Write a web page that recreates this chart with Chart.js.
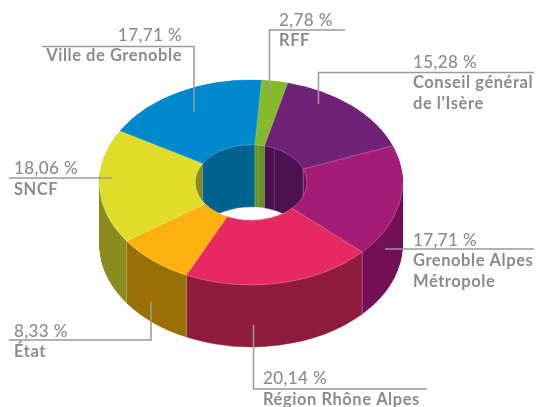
<!DOCTYPE html>
<html>
<head>
<meta charset="utf-8">
<style>html,body{margin:0;padding:0;background:#fff}canvas{display:block}</style>
<script src="https://cdn.jsdelivr.net/npm/chart.js@4"></script>
</head>
<body>
<canvas id="c" width="539" height="407"></canvas>
<script>
const categories = ['RFF', 'Conseil général de l\'Isère', 'Grenoble Alpes Métropole', 'Région Rhône Alpes', 'État', 'SNCF', 'Ville de Grenoble'];
const values = [2.78, 15.28, 17.71, 20.14, 8.33, 18.06, 17.71];
const topColors = ['#85BB2A', '#6F2278', '#A41C75', '#E62A61', '#FCB10F', '#DFDD2A', '#0089CC'];
const wallColors = ['#6A9020', '#4B1250', '#741057', '#901C3D', '#9A7107', '#8B8C20', '#00648F'];

const FLAT = 0.676, DEPTH = 62, CY = 182.5;
const INK = '#8c8c8c', RULE = '#9a9a9a', SEAM = 'rgba(255,255,255,0.38)';
const PCT = '500 17px Lato', NAME = '700 16.5px Lato';

function flatten(ctx, a, shift) {
  ctx.translate(0, CY + shift);
  ctx.scale(1, FLAT);
  ctx.translate(0, -a.y);
}
function drawAs(ctx, a, color, width, shift) {
  const o = a.options;
  a.options = Object.create(o, {
    backgroundColor: { value: color },
    borderColor: { value: color },
    borderWidth: { value: width }
  });
  ctx.save();
  flatten(ctx, a, shift);
  a.draw(ctx);
  ctx.restore();
  a.options = o;
}
function line(ctx, x0, y0, x1, y1) {
  ctx.beginPath(); ctx.moveTo(x0, y0); ctx.lineTo(x1, y1); ctx.stroke();
}
const solid = {
  id: 'solid',
  beforeDatasetsDraw(chart) {
    const ctx = chart.ctx, arcs = chart.getDatasetMeta(0).data;
    for (let d = DEPTH; d >= 1; d--) {
      arcs.forEach((a, i) => drawAs(ctx, a, wallColors[i], 0.6, d));
    }
    // seams between wall segments, and the two faint stripes on the hole wall
    ctx.save();
    ctx.strokeStyle = SEAM;
    ctx.lineWidth = 0.8;
    arcs.forEach(a => {
      const cos = Math.cos(a.startAngle), sin = Math.sin(a.startAngle);
      const r = sin > 0 ? a.outerRadius : a.innerRadius;
      const x = a.x + r * cos, y = CY + FLAT * r * sin;
      line(ctx, x, y, x, y + DEPTH);
    });
    ctx.strokeStyle = 'rgba(255,255,255,0.22)';
    line(ctx, 258.3, 145, 258.3, 206);
    line(ctx, 274.3, 148, 274.3, 209);
    ctx.restore();
    arcs.forEach((a, i) => drawAs(ctx, a, topColors[i], 0.7, 0));
    ctx.save();
    flatten(ctx, arcs[0], 0);
  },
  afterDatasetsDraw(chart) {
    const ctx = chart.ctx, arcs = chart.getDatasetMeta(0).data;
    ctx.restore();
    ctx.save();
    ctx.strokeStyle = SEAM;
    ctx.lineWidth = 0.7;
    arcs.forEach(a => {
      const cos = Math.cos(a.startAngle), sin = Math.sin(a.startAngle);
      line(ctx, a.x + a.innerRadius * cos, CY + FLAT * a.innerRadius * sin,
                a.x + a.outerRadius * cos, CY + FLAT * a.outerRadius * sin);
    });
    const a0 = arcs[0];
    ctx.strokeStyle = 'rgba(255,255,255,0.3)';
    ctx.beginPath();
    ctx.ellipse(a0.x, CY, a0.outerRadius, FLAT * a0.outerRadius, 0, 0, Math.PI);
    ctx.stroke();
    ctx.beginPath();
    ctx.ellipse(a0.x, CY, a0.innerRadius, FLAT * a0.innerRadius, 0, 0, Math.PI * 2);
    ctx.stroke();
    ctx.restore();
  },
  afterDraw(chart) {
    const ctx = chart.ctx;
    ctx.save();
    ctx.strokeStyle = RULE; ctx.lineWidth = 1.5; ctx.lineJoin = 'miter';
    const rule = pts => {
      ctx.beginPath();
      pts.forEach((p, i) => i ? ctx.lineTo(p[0], p[1]) : ctx.moveTo(p[0], p[1]));
      ctx.stroke();
    };
    rule([[42, 46.5], [194, 46.5], [194, 112]]);
    rule([[269.5, 97], [269.5, 30], [345, 30]]);
    rule([[318.5, 104], [318.5, 72.5], [534, 72.5]]);
    rule([[385, 249], [534, 249]]);
    rule([[253.5, 325], [253.5, 389], [427, 389]]);
    rule([[9, 340], [151, 340], [151, 301.5]]);
    rule([[9, 178], [112, 178]]);
    ctx.fillStyle = INK; ctx.textBaseline = 'alphabetic';
    const text = (s, x, y, f, align) => {
      ctx.font = f;
      ctx.letterSpacing = f === PCT ? '0.4px' : '0.55px';
      ctx.textAlign = align || 'left';
      ctx.fillText(s, x, y);
    };
    const pct = i => values[i].toFixed(2).replace('.', ',') + ' %';
    text(pct(6), 182, 41, PCT, 'right'); text('Ville de Grenoble', 182, 61, NAME, 'right');
    text(pct(0), 279, 26, PCT); text('RFF', 279, 46, NAME);
    text(pct(1), 413, 68, PCT); text('Conseil général', 413, 88, NAME); text("de l'Isère", 413, 109, NAME);
    text(pct(2), 413, 246, PCT); text('Grenoble Alpes', 413, 266, NAME); text('Métropole', 413, 287, NAME);
    text(pct(3), 263, 384, PCT); text('Région Rhône Alpes', 263, 405, NAME);
    text(pct(4), 14, 337, PCT); text('État', 14, 357, NAME);
    text(pct(5), 14, 174, PCT); text('SNCF', 14, 195, NAME);
    ctx.restore();
  }
};

new Chart(document.getElementById('c'), {
  type: 'doughnut',
  data: {
    labels: categories,
    datasets: [{
      data: values,
      backgroundColor: topColors,
      borderWidth: 0
    }]
  },
  options: {
    responsive: false,
    animation: false,
    events: [],
    rotation: 4,
    radius: 151.5,
    cutout: '36.96%',
    layout: { padding: { right: 37 } },
    plugins: { legend: { display: false }, tooltip: { enabled: false }, title: { display: false } }
  },
  plugins: [solid]
});
</script>
</body>
</html>
